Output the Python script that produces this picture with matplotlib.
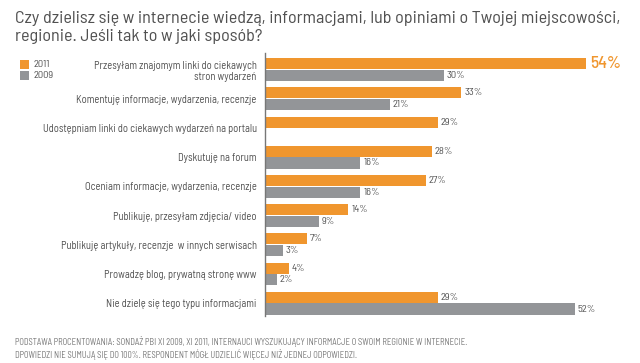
import matplotlib
matplotlib.use("Agg")
import matplotlib.pyplot as plt
from matplotlib import font_manager as fm
import numpy as np

categories = [
    "Przesyłam znajomym linki do ciekawych\nstron wydarzeń",
    "Komentuję informacje, wydarzenia, recenzje",
    "Udostępniam linki do ciekawych wydarzeń na portalu",
    "Dyskutuję na forum",
    "Oceniam informacje, wydarzenia, recenzje",
    "Publikuję, przesyłam zdjęcia/ video",
    "Publikuję artykuły, recenzje  w innych serwisach",
    "Prowadzę blog, prywatną stronę www",
    "Nie dzielę się tego typu informacjami",
]
values_2011 = [54, 33, 29, 28, 27, 14, 7, 4, 29]
values_2009 = [30, 21, None, 16, 16, 9, 3, 2, 52]
series_names = ["2011", "2009"]

ORANGE = "#F0962E"
GRAY = "#939598"
TEXT = "#505050"

available = set(f.name for f in fm.fontManager.ttflist)
prefs = ["Barlow Semi Condensed", "Roboto Condensed", "Barlow Condensed", "PT Sans Narrow",
         "Archivo Narrow", "Open Sans Condensed", "Liberation Sans Narrow", "DejaVu Sans"]
FONT = next(p for p in prefs if p in available)
plt.rcParams['font.family'] = [FONT, 'DejaVu Sans']

fig = plt.figure(figsize=(6.4, 3.63), dpi=100)
fig.patch.set_facecolor("white")
renderer = fig.canvas.get_renderer()


def fit(s, target_px, base=10.0, weight="normal"):
    t = fig.text(0, 0, s, fontsize=base, fontweight=weight)
    w = t.get_window_extent(renderer).width
    t.remove()
    return base * target_px / w


fs_title = fit("Czy dzielisz się w internecie wiedzą, informacjami, lub opiniami o Twojej miejscowości,", 607)
fs_label = fit("Komentuję informacje, wydarzenia, recenzje", 181)
fs_val = fit("33%", 18)
fs_big = fit("54%", 31, weight="medium")
fs_foot = fit("PODSTAWA PROCENTOWANIA: SONDAŻ PBI XI 2009, XI 2011, INTERNAUCI WYSZUKUJĄCY INFORMACJE O SWOIM REGIONIE W INTERNECIE.", 450)

ax = fig.add_axes([0.414, 0.129, 0.586, 0.725])
y = np.arange(len(categories))
h = 0.38
off = 0.2
v11 = np.array(values_2011, dtype=float)
v09 = np.array([np.nan if v is None else v for v in values_2009], dtype=float)
ax.barh(y - off, v11, height=h, color=ORANGE, linewidth=0)
ax.barh(y + off, np.nan_to_num(v09), height=h, color=GRAY, linewidth=0)

ax.set_xlim(0, 63)
ax.set_ylim(len(categories) - 1 + 0.445, -0.565)
for s in ["top", "right", "bottom"]:
    ax.spines[s].set_visible(False)
ax.spines["left"].set_color("#777777")
ax.spines["left"].set_linewidth(1.0)
ax.set_xticks([])
ax.set_yticks(y)
ax.set_yticklabels(categories, fontsize=fs_label, color=TEXT, linespacing=1.15)
ax.tick_params(axis="y", length=0, pad=6)

for i, v in enumerate(v11):
    if i == 0:
        ax.text(v + 0.6, i - off, f"{int(v)}%", va="center", ha="left",
                fontsize=fs_big, color=ORANGE, fontweight="medium")
    else:
        ax.text(v + 0.5, i - off, f"{int(v)}%", va="center", ha="left",
                fontsize=fs_val, color=TEXT)
for i, v in enumerate(v09):
    if not np.isnan(v):
        ax.text(v + 0.5, i + off, f"{int(v)}%", va="center", ha="left",
                fontsize=fs_val, color=TEXT)

# legend
for k, (name, col) in enumerate(zip(series_names, [ORANGE, GRAY])):
    yy = 1 - (64.5 + 11 * k) / 363
    fig.patches.append(plt.Rectangle((20 / 640, yy - 4.5 / 363), 9 / 640, 9 / 363,
                                     transform=fig.transFigure, color=col, linewidth=0))
    fig.text(33 / 640, yy, name, fontsize=fs_val, color=TEXT, va="center", ha="left")

fig.text(15 / 640, 1 - 18 / 363,
         "Czy dzielisz się w internecie wiedzą, informacjami, lub opiniami o Twojej miejscowości,",
         fontsize=fs_title, color=TEXT, va="center", ha="left")
fig.text(15 / 640, 1 - 37 / 363, "regionie. Jeśli tak to w jaki sposób?",
         fontsize=fs_title, color=TEXT, va="center", ha="left")

fig.text(15 / 640, 1 - 342 / 363,
         "PODSTAWA PROCENTOWANIA: SONDAŻ PBI XI 2009, XI 2011, INTERNAUCI WYSZUKUJĄCY INFORMACJE O SWOIM REGIONIE W INTERNECIE.",
         fontsize=fs_foot, color="#777777", va="center", ha="left")
fig.text(15 / 640, 1 - 354 / 363,
         "DPOWIEDZI NIE SUMUJĄ SIĘ DO 100%. RESPONDENT MÓGŁ UDZIELIĆ WIĘCEJ NIŻ JEDNEJ ODPOWIEDZI.",
         fontsize=fs_foot, color="#777777", va="center", ha="left")

fig.savefig("out.png", dpi=100, facecolor="white")
